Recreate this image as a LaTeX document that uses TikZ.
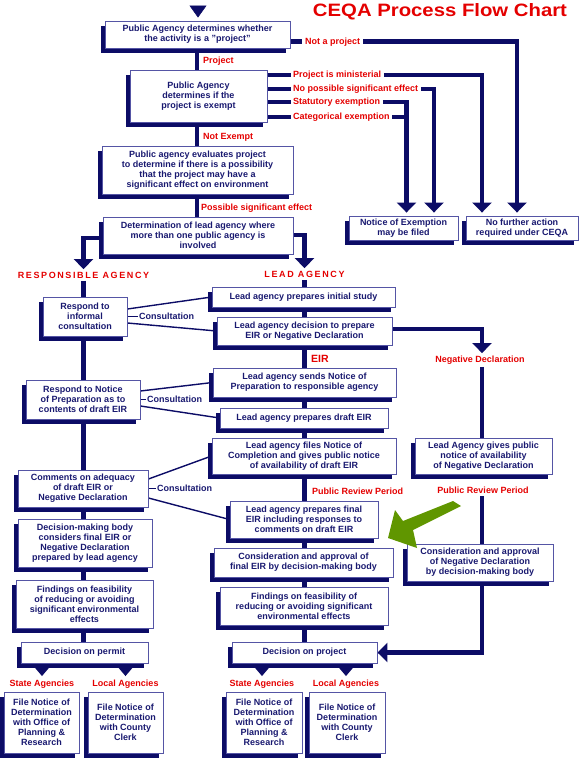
\documentclass[tikz,border=0pt]{standalone}
\usepackage{fontspec}
\setmainfont{Liberation Sans}
\usepackage{graphicx}
\usetikzlibrary{arrows.meta,shadows,backgrounds}
\definecolor{navy}{RGB}{12,12,102}
\definecolor{txtnavy}{RGB}{25,25,112}
\definecolor{boxline}{RGB}{85,85,165}
\definecolor{cred}{RGB}{228,0,0}
\definecolor{cgreen}{RGB}{96,150,0}
\newcommand\mkbox[6]{%
  \pgfmathsetmacro\mkw{#4-#2}\pgfmathsetmacro\mkh{#5-#3}%
  \pgfmathsetmacro\mkx{(#2+#4)/2}\pgfmathsetmacro\mky{(#3+#5)/2}%
  \node[box,minimum width=\mkw pt,minimum height=\mkh pt] (#1) at (\mkx,\mky) {#6};}
\tikzset{
 box/.style={draw=boxline, line width=0.9pt, fill=white, text=txtnavy,
   font=\fontsize{9}{10}\selectfont\bfseries, align=center, inner sep=0pt,
   general shadow={fill=navy, shadow xshift=-4pt, shadow yshift=-5pt}},
 lbl/.style={text=cred, font=\fontsize{9}{10}\selectfont\bfseries, inner sep=2.5pt},
 aglbl/.style={text=cred, font=\fontsize{9}{10}\selectfont\bfseries\addfontfeature{LetterSpace=18}, inner sep=2.5pt},
 clbl/.style={text=txtnavy, font=\fontsize{9}{10}\selectfont\bfseries, inner sep=1.5pt},
 conn/.style={draw=navy, line width=4.5pt},
 arr/.style={conn, -{Triangle[width=19pt,length=10pt]}},
 small arr/.style={draw=navy, line width=3pt, -{Triangle[width=13pt,length=8pt]}},
 consult/.style={draw=navy, line width=1.4pt},
}
\begin{document}
\begin{tikzpicture}[x=1pt,y=-1pt]
\useasboundingbox (0,0) rectangle (580,758);
% title
\node[text=cred, inner sep=0pt] (title) at (440,11.5) {\resizebox{254pt}{13pt}{\bfseries CEQA Process Flow Chart}};
% top boxes
\mkbox{B1}{105}{21}{290}{48}{Public Agency determines whether\\the activity is a "project"}
\mkbox{B2}{130}{70}{267}{122}{Public Agency\\determines if the\\project is exempt}
\mkbox{B3}{102}{146}{293}{194}{Public agency evaluates project\\to determine if there is a possibility\\that the project may have a\\significant effect on environment}
\mkbox{B4}{103}{217}{293}{254}{Determination of lead agency where\\more than one public agency is\\involved}
\mkbox{NOE}{349}{216}{458}{240}{Notice of Exemption\\may be filed}
\mkbox{NFA}{466}{216}{578}{240}{No further action\\required under CEQA}
% responsible agency column
\mkbox{R1}{43}{297}{127}{336}{Respond to\\informal\\consultation}
\mkbox{R2}{26}{380}{140}{419}{Respond to Notice\\of Preparation as to\\contents of draft EIR}
\mkbox{R3}{18}{470}{148}{507}{Comments on adequacy\\of draft EIR or\\Negative Declaration}
\mkbox{R4}{18}{519}{152}{567}{Decision-making body\\considers final EIR or\\Negative Declaration\\prepared by lead agency}
\mkbox{R5}{16}{580}{153}{628}{Findings on feasibility\\of reducing or avoiding\\significant environmental\\effects}
\mkbox{R6}{21}{642}{148}{663}{Decision on permit}
\mkbox{R7}{4}{692}{79}{753}{File Notice of\\Determination\\with Office of\\Planning \&\\Research}
\mkbox{R8}{88}{692}{163}{753}{File Notice of\\Determination\\with County\\Clerk}
% lead agency column
\mkbox{L1}{212}{287}{395}{307}{Lead agency prepares initial study}
\mkbox{L2}{217}{317}{392}{345}{Lead agency decision to prepare\\EIR or Negative Declaration}
\mkbox{L3}{213}{368}{396}{397}{Lead agency sends Notice of\\Preparation to responsible agency}
\mkbox{L4}{220}{408}{388}{428}{Lead agency prepares draft EIR}
\mkbox{L5}{212}{438}{396}{474}{Lead agency files Notice of\\Completion and gives public notice\\of availability of draft EIR}
\mkbox{L6}{230}{501}{378}{538}{Lead agency prepares final\\EIR including responses to\\comments on draft EIR}
\mkbox{L7}{214}{548}{393}{577}{Consideration and approval of\\final EIR by decision-making body}
\mkbox{L8}{220}{587}{388}{625}{Findings on feasibility of\\reducing or avoiding significant\\environmental effects}
\mkbox{L9}{232}{642}{377}{663}{Decision on project}
\mkbox{L10}{226}{692}{302}{753}{File Notice of\\Determination\\with Office of\\Planning \&\\Research}
\mkbox{L11}{309}{692}{385}{753}{File Notice of\\Determination\\with County\\Clerk}
% negative declaration column
\mkbox{N1}{415}{438}{552}{474}{Lead Agency gives public\\notice of availability\\of Negative Declaration}
\mkbox{N2}{407}{544}{553}{581}{Consideration and approval\\of Negative Declaration\\by decision-making body}
% labels
\node[lbl, anchor=west] (lproj) at (200.5,61) {Project};
\node[lbl, anchor=west] (lnotex) at (200.5,137) {Not Exempt};
\node[lbl, anchor=west] (lpse) at (198.5,208) {Possible significant effect};
\node[lbl, anchor=west, inner sep=3pt] (lnap) at (302,41.7) {Not a project};
\node[lbl, anchor=west] (lmin) at (290.5,75) {Project is ministerial};
\node[lbl, anchor=west] (lnps) at (290.5,89) {No possible significant effect};
\node[lbl, anchor=west] (lstat) at (290.5,102) {Statutory exemption};
\node[lbl, anchor=west] (lcat) at (290.5,117) {Categorical exemption};
\node[aglbl] (lra) at (83.5,275) {RESPONSIBLE AGENCY};
\node[aglbl] (lla) at (304.5,274) {LEAD AGENCY};
\node[lbl, anchor=west, font=\fontsize{10.5}{12}\selectfont\bfseries] (leir) at (308.5,359) {EIR};
\node[lbl] (lnd) at (480,360) {Negative Declaration};
\node[lbl, anchor=west] (lprp1) at (309.5,491) {Public Review Period};
\node[lbl] (lprp2) at (483,490) {Public Review Period};
\node[lbl] (lsa1) at (42,684) {State Agencies};
\node[lbl] (lla1) at (125.5,684) {Local Agencies};
\node[lbl] (lsa2) at (262,684) {State Agencies};
\node[lbl] (lla2) at (346,684) {Local Agencies};
\node[clbl, anchor=west] (lc1) at (137.5,316.5) {Consultation};
\node[clbl, anchor=west] (lc2) at (145.5,399.5) {Consultation};
\node[clbl, anchor=west] (lc3) at (155.5,488.5) {Consultation};
% helper coordinates
\coordinate (start) at (198,6);
\coordinate (xA) at (197,0);
\coordinate (xL) at (83.5,0);
\coordinate (xM) at (304.5,0);
\coordinate (xN) at (482,0);
\coordinate (xE1) at (406.5,0);
\coordinate (xE2) at (434,0);
\coordinate (xF1) at (482,0);
\coordinate (xF2) at (517,0);
\coordinate (yRA) at (0,238);
\coordinate (yLA) at (0,235);
\coordinate (yND) at (0,329);
\begin{pgfonlayer}{background}
 \draw[navy, line width=.5pt, -{Triangle[width=17pt,length=12pt]}, shorten >=3pt] (start) -- (start |- B1.north);
 \draw[conn] (B1.south -| xA) -- (B2.north -| xA);
 \draw[conn] (B2.south -| xA) -- (B3.north -| xA);
 \draw[conn] (B3.south -| xA) -- (B4.north -| xA);
 % not a project
 \draw[conn] (B1.east |- lnap) -- (lnap.west);
 \draw[arr, shorten >=3pt] (lnap.east) -- (lnap.east -| xF2) -- (NFA.north -| xF2);
 % exemptions
 \draw[conn] (B2.east |- lmin) -- (lmin.west);
 \draw[conn] (B2.east |- lnps) -- (lnps.west);
 \draw[conn] (B2.east |- lstat) -- (lstat.west);
 \draw[conn] (B2.east |- lcat) -- (lcat.west);
 \draw[arr, shorten >=3pt] (lmin.east) -- (lmin.east -| xF1) -- (NFA.north -| xF1);
 \draw[arr, shorten >=3pt] (lnps.east) -- (lnps.east -| xE2) -- (NOE.north -| xE2);
 \draw[arr, shorten >=3pt] (lstat.east) -- (lstat.east -| xE1) -- (NOE.north -| xE1);
 \draw[conn, shorten >=-2.25pt] (lcat.east) -- (lcat.east -| xE1);
 % split to agencies
 \draw[arr] (B4.west |- yRA) -- (yRA -| xL) -- (lra.north);
 \draw[arr] (B4.east |- yLA) -- (yLA -| xM) -- (lla.north);
 % responsible agency column
 \draw[conn] (lra.south) -- (R1.north -| xL);
 \foreach \a/\b in {R1/R2,R2/R3,R3/R4,R4/R5,R5/R6}
   \draw[conn] (\a.south -| xL) -- (\b.north -| xL);
 % lead agency column
 \draw[conn] (lla.south) -- (L1.north -| xM);
 \foreach \a/\b in {L1/L2,L2/L3,L3/L4,L4/L5,L5/L6,L6/L7,L7/L8,L8/L9}
   \draw[conn] (\a.south -| xM) -- (\b.north -| xM);
 % negative declaration branch
 \draw[arr] (L2.east |- yND) -- (yND -| xN) -- (lnd.north -| xN);
 \draw[conn] (lnd.south -| xN) -- (N1.north -| xN);
 \draw[conn] (lprp2.south -| xN) -- (N2.north -| xN);
 \draw[arr] (N2.south -| xN) -- (xN |- L9.east) -- (L9.east);
 % bottom small arrows
 \draw[small arr, shorten >=1pt] (R6.south -| lsa1) -- (lsa1.north);
 \draw[small arr, shorten >=1pt] (R6.south -| lla1) -- (lla1.north);
 \draw[small arr, shorten >=1pt] (L9.south -| lsa2) -- (lsa2.north);
 \draw[small arr, shorten >=1pt] (L9.south -| lla2) -- (lla2.north);
 % consultations
 \draw[consult] ([yshift=7.5pt]R1.east) -- (L1.west);
 \draw[consult] ([yshift=-6.5pt]R1.east) -- (L2.west);
 \draw[consult] (R1.east) -- (lc1.west);
 \draw[consult] ([yshift=8.5pt]R2.east) -- (L3.west);
 \draw[consult] ([yshift=-6.5pt]R2.east) -- (L4.west);
 \draw[consult] (R2.east) -- (lc2.west);
 \draw[consult] ([yshift=9.5pt]R3.east) -- (L5.west);
 \draw[consult] ([yshift=-9.5pt]R3.east) -- (L6.west);
 \draw[consult] (R3.east) -- (lc3.west);
\end{pgfonlayer}
% green arrow
\fill[cgreen] (453,501) -- (461,506) -- (413,530) -- (417,548) -- (388,538) -- (395,510) -- (403,521) -- cycle;
\end{tikzpicture}
\end{document}
